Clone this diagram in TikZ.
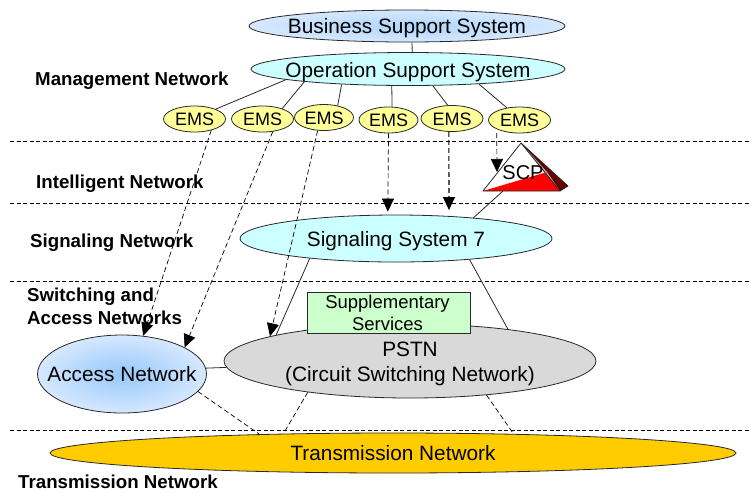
\documentclass[tikz,border=0pt]{standalone}
\usepackage{fontspec}
\setmainfont{Liberation Sans}
\usetikzlibrary{positioning,arrows.meta,shapes.geometric}
\definecolor{linegray}{RGB}{40,40,40}
\definecolor{fillcyan}{RGB}{204,255,255}
\definecolor{fillyellow}{RGB}{255,255,153}
\definecolor{fillgreen}{RGB}{204,255,204}
\definecolor{fillgray}{RGB}{217,217,217}
\definecolor{fillgold}{RGB}{255,204,0}
\definecolor{paleblue}{RGB}{214,232,255}
\definecolor{midblue}{RGB}{150,200,250}
\newcommand{\zerow}[2][-7.5pt]{\makebox[0pt]{\raisebox{#1}[0pt][0pt]{#2}}}
\tikzset{
  link/.style={draw=linegray, line width=0.8pt},
  band/.style={draw=black, line width=0.6pt, dash pattern=on 4pt off 2.5pt},
  dashlink/.style={draw=black, line width=0.7pt, dash pattern=on 5pt off 3pt},
  arrow/.style={dashlink, -{Triangle[length=13pt,width=12pt]}},
  netlabel/.style={font=\fontsize{18.7}{23}\selectfont\bfseries, anchor=west, inner sep=0pt},
  oval/.style={
    ellipse,
    draw=linegray,
    line width=0.8pt,
    inner sep=0pt,
    font=\fontsize{20.8}{25}\selectfont
  },
  ems/.style={oval, fill=fillyellow, minimum width=62pt, minimum height=26pt,
    font=\fontsize{18}{22}\selectfont}
}
\begin{document}
\begin{tikzpicture}[x=1pt,y=-1pt]
\useasboundingbox (0,0) rectangle (749,491);

% Layer borders
\coordinate (b1l) at (10,141);  \coordinate (b1r) at (749,141);
\coordinate (b2l) at (10,203);  \coordinate (b2r) at (749,203);
\coordinate (b3l) at (10,281);  \coordinate (b3r) at (749,281);
\coordinate (b4l) at (10,430);  \coordinate (b4r) at (749,430);
\draw[band] (b1l) -- (b1r);
\draw[band] (b2l) -- (b2r);
\draw[band] (b3l) -- (b3r);
\draw[band] (b4l) -- (b4r);

% Management
\node[oval, inner color=midblue!75!white, outer color=paleblue, minimum width=316pt, minimum height=32pt] (bss) at (407,26) {\zerow[-7pt]{Business Support System}};
\node[oval, fill=fillcyan, minimum width=314pt, minimum height=33pt] (oss) at (408,69) {\zerow[-8pt]{Operation Support System}};
\node[ems] (emsa) at (194.5,119) {\zerow[-6.5pt]{EMS}};
\node[ems] (emsb) at (262.5,119) {\zerow[-6.5pt]{EMS}};
\node[ems, minimum width=59pt] (emsc) at (324,117.5) {\zerow[-6.5pt]{EMS}};
\node[ems, minimum width=59pt] (emsd) at (388.5,120) {\zerow[-6.5pt]{EMS}};
\node[ems] (emse) at (452,118.5) {\zerow[-6.5pt]{EMS}};
\node[ems] (emsf) at (519.5,120) {\zerow[-6.5pt]{EMS}};

% Signaling, switching, transmission
\node[oval, fill=fillcyan, minimum width=312pt, minimum height=47pt] (ss7) at (396,238.5) {\zerow{Signaling System 7}};
\node[oval, fill=fillgray, minimum width=372pt, minimum height=74pt] (pstn) at (410,361) {\zerow[5pt]{PSTN}\zerow[-20pt]{(Circuit Switching Network)}};
\node[oval, inner color=midblue, outer color=paleblue, minimum width=169pt, minimum height=78pt] (access) at (122,374) {\zerow{Access Network}};
\node[oval, fill=fillgold, minimum width=686pt, minimum height=40pt] (trans) at (393,453) {\zerow[-7pt]{Transmission Network}};
\node[draw=linegray, line width=0.8pt, fill=fillgreen, minimum width=163pt, minimum height=41pt, inner sep=0pt, align=center, font=\fontsize{18.5}{22}\selectfont] (supp) at (388.5,312.5) {\hspace*{-2pt}Supplementary\\\hspace*{-2pt}Services};

% SCP pyramid
\coordinate (scpa) at (521,143);
\coordinate (scpl) at (483,191);
\coordinate (scpr) at (560,191);
\coordinate (scpk) at (568,186);
\coordinate (scpm) at (547,172);
\coordinate (scpin) at (497,172);
\coordinate (scpout) at (503,191);
\fill[white] (scpa) -- (scpl) -- (scpr) -- cycle;
\fill[red] (scpl) -- (scpm) -- (scpr) -- cycle;
\fill[black!60!red] (scpa) -- (scpk) -- (scpr) -- cycle;
\fill[black!30] (scpa) -- (scpm) -- (scpr) -- cycle;
\draw[link, line join=round] (scpa) -- (scpl) -- (scpr) -- cycle;
\draw[link, line join=round] (scpa) -- (scpk) -- (scpr);
\node[font=\fontsize{20}{24}\selectfont, inner sep=0pt] (scp) at (523,173) {SCP};

% Layer names
\node[netlabel] (mgmt) at (35,81) {Management Network};
\node[netlabel] (intel) at (36,184) {Intelligent Network};
\node[netlabel] (signal) at (30,243) {Signaling Network};
\node[netlabel, align=left] (switch) at (27,306.5) {Switching and\\Access Networks};
\node[netlabel] (tlabel) at (18,481.5) {Transmission Network};

% Solid links
\draw[link] (bss.287) -- (oss.76);
\draw[link] (oss.185) -- (emsa.25);
\draw[link] (oss.187) -- (emsb.28);
\draw[link] (oss.193) -- (emsc.41);
\draw[link] (oss.226) -- (emsd.75);
\draw[link] (oss.326) -- (emse.108);
\draw[link] (oss.348) -- (emsf.136);
\draw[link] (scpout) -- (ss7.15);
\draw[link] (ss7.193) -- (pstn.169);
\draw[link] (ss7.344) -- (pstn.18.7);
\draw[link] (access.4) -- (pstn.182);

% Dashed links
\draw[arrow] (emsa.326) -- (access.61);
\draw[arrow] (emsb.309) -- (access.23);
\draw[arrow] (emsc.244) -- (pstn.170.6);
\draw[arrow, shorten >=3pt] (emsd.270) -- (ss7.109);
\draw[arrow, line width=1.1pt, shorten >=6pt] (emse.257) -- (ss7.23.4);
\draw[arrow, shorten <=4pt] (emsf.202) -- (scpin);
\draw[dashlink] (access.347) -- (trans.172);
\draw[dashlink] (pstn.197.4) -- (trans.170);
\draw[dashlink] (pstn.336) -- (trans.9);

\end{tikzpicture}
\end{document}
